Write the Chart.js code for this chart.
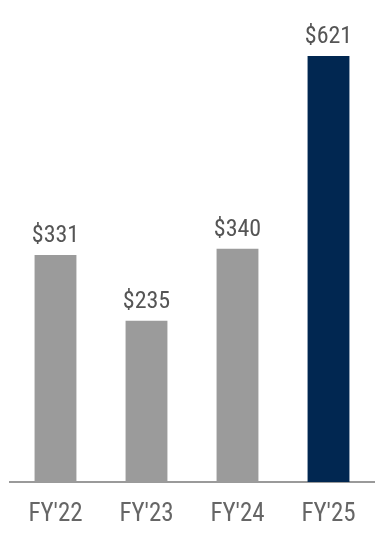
<!DOCTYPE html>
<html>
<head>
<meta charset="utf-8">
<script src="https://cdn.jsdelivr.net/npm/chart.js@4"></script>
<style>
    html, body { margin: 0; padding: 0; background: #fff; }
    #wrap { width: 384px; height: 536px; }
</style>
</head>
<body>
<div id="wrap"><canvas id="chart"></canvas></div>
<script>
const categories = ["FY'22", "FY'23", "FY'24", "FY'25"];
const revenue = [331, 235, 340, 621];
const barColors = ["#9b9b9b", "#9b9b9b", "#9b9b9b", "#012751"];

const FONT = "'Liberation Sans Narrow', 'Roboto Condensed', Roboto, sans-serif";

// draws "$value" above each bar
const valueLabels = {
    id: "valueLabels",
    afterDatasetsDraw: function (chart) {
        var ctx = chart.ctx;
        var meta = chart.getDatasetMeta(0);
        ctx.save();
        ctx.font = "24px " + FONT;
        ctx.fillStyle = "#555555";
        ctx.textAlign = "center";
        ctx.textBaseline = "bottom";
        meta.data.forEach(function (bar, i) {
            ctx.fillText("$" + revenue[i], bar.x, bar.y - 7);
        });
        ctx.restore();
    }
};

var ctx = document.getElementById("chart").getContext("2d");
new Chart(ctx, {
    type: "bar",
    data: {
        labels: categories,
        datasets: [
            {
                data: revenue,
                backgroundColor: barColors,
                borderWidth: 0,
                categoryPercentage: 0.92,
                barPercentage: 0.5,
            },
        ],
    },
    options: {
        responsive: true,
        maintainAspectRatio: false,
        animation: false,
        layout: { padding: { top: 10, left: 10, right: 10, bottom: 0 } },
        plugins: {
            legend: { display: false },
            tooltip: { enabled: false },
        },
        scales: {
            y: {
                display: false,
                min: 0,
                max: 688,
            },
            x: {
                grid: { display: false, drawTicks: false },
                border: { display: true, color: "#9a9a9a", width: 2 },
                ticks: {
                    color: "#666666",
                    font: { family: FONT, size: 25 },
                    padding: 18,
                },
                afterFit: function (scale) {
                    scale.height = 54;
                },
            },
        },
    },
    plugins: [valueLabels],
});
</script>
</body>
</html>
